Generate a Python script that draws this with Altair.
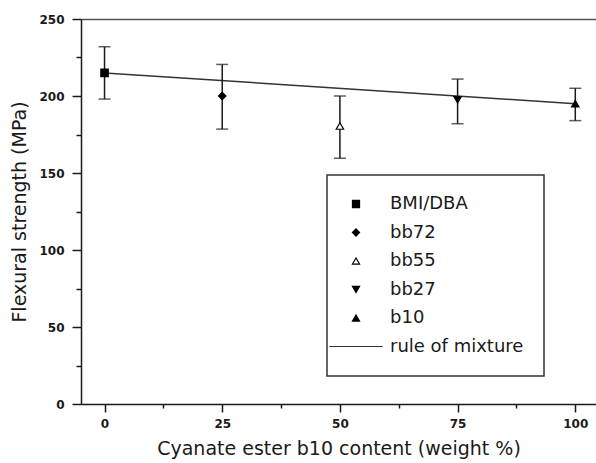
import altair as alt
import pandas as pd

# ---- data ----
series = ["BMI/DBA", "bb72", "bb55", "bb27", "b10"]
content = [0, 25, 50, 75, 100]
strength = [215, 200, 180.5, 197.5, 195]
err_high = [232, 220.5, 200, 211, 205]
err_low = [198, 178.5, 159.5, 182, 184]

mix_label = "rule of mixture"
mix_x = [0, 100]
mix_y = [215, 195]

x_ticks = [0, 12.5, 25, 37.5, 50, 62.5, 75, 87.5, 100]
y_ticks = [0, 25, 50, 75, 100, 125, 150, 175, 200, 225, 250]

legend_domain = series + [mix_label]
shape_range = ["square", "diamond", "triangle-up", "triangle-down", "triangle-up", "M-7.5,0H7.5"]
fill_range = ["black", "black", "white", "black", "black", "transparent"]
stroke_range = ["black", "black", "black", "black", "black", "#333333"]

df = pd.DataFrame({"series": series, "content": content, "strength": strength,
                   "err_high": err_high, "err_low": err_low})
mix_df = pd.DataFrame({"x": mix_x, "y": mix_y})

FONT = "DejaVu Sans"
INK = "#1a1a1a"

xs = alt.Scale(domain=[-5, 104.4], nice=False, zero=False)
ys = alt.Scale(domain=[0, 250], nice=False, zero=False)

x_axis = alt.Axis(
    values=x_ticks, title="Cyanate ester b10 content (weight %)",
    labelExpr="datum.value % 25 === 0 ? datum.label : ''",
    tickSize={"condition": {"test": "datum.value % 25 === 0", "value": 8}, "value": 4},
    labelFont=FONT, labelFontSize=12, labelFontWeight="bold", labelColor=INK,
    labelPadding=6, labelFlush=False, labelOverlap=False,
    domainColor=INK, domainWidth=1.5, tickColor=INK, tickWidth=1.5,
    titleFont=FONT, titleFontSize=19, titleFontWeight="normal", titleColor=INK,
    titlePadding=10, grid=False,
)
y_axis = alt.Axis(
    values=y_ticks, title="Flexural strength (MPa)",
    labelExpr="datum.value % 50 === 0 ? datum.label : ''",
    tickSize={"condition": {"test": "datum.value % 50 === 0", "value": 9}, "value": 5},
    labelFont=FONT, labelFontSize=12, labelFontWeight="bold", labelColor=INK,
    labelPadding=8, labelFlush=False, labelOverlap=False,
    domainColor=INK, domainWidth=1.5, tickColor=INK, tickWidth=1.5,
    titleFont=FONT, titleFontSize=19, titleFontWeight="normal", titleColor=INK,
    titlePadding=9, grid=False,
)
top_axis = alt.Axis(orient="top", ticks=False, labels=False, title=None,
                    domainColor="#555", domainWidth=1.5, grid=False)

legend = alt.Legend(
    title=None, orient="none", legendX=246, legendY=156, direction="vertical",
    padding=20, strokeColor="#333", fillColor="white",
    labelFont=FONT, labelFontSize=18, labelColor=INK, labelLimit=400,
    labelOffset=25, symbolOffset=0, rowPadding=10.5, symbolSize=50,
    symbolStrokeWidth=1.2,
)

base = alt.Chart(df)

rules = base.mark_rule(color=INK, strokeWidth=1.5).encode(
    x=alt.X("content:Q", scale=xs, axis=None),
    y=alt.Y("err_low:Q", scale=ys, axis=None),
    y2="err_high:Q",
)
caps_hi = base.mark_tick(color=INK, orient="horizontal", size=12, thickness=1.5).encode(
    x=alt.X("content:Q", scale=xs, axis=None),
    y=alt.Y("err_high:Q", scale=ys, axis=None),
)
caps_lo = base.mark_tick(color=INK, orient="horizontal", size=12, thickness=1.5).encode(
    x=alt.X("content:Q", scale=xs, axis=None),
    y=alt.Y("err_low:Q", scale=ys, axis=None),
)
line = alt.Chart(mix_df).mark_line(color="#333", strokeWidth=1.5).encode(
    x=alt.X("x:Q", scale=xs, axis=top_axis),
    y=alt.Y("y:Q", scale=ys, axis=None),
)
points = base.mark_point(filled=True, size=55, strokeWidth=1.2, opacity=1).encode(
    x=alt.X("content:Q", scale=xs, axis=x_axis),
    y=alt.Y("strength:Q", scale=ys, axis=y_axis),
    shape=alt.Shape("series:N", scale=alt.Scale(domain=legend_domain, range=shape_range), legend=legend),
    fill=alt.Fill("series:N", scale=alt.Scale(domain=legend_domain, range=fill_range), legend=legend),
    stroke=alt.Stroke("series:N", scale=alt.Scale(domain=legend_domain, range=stroke_range), legend=legend),
)

chart = (
    alt.layer(line, rules, caps_hi, caps_lo, points)
    .resolve_axis(x="independent", y="independent")
    .properties(
        width=515, height=385,
        autosize=alt.AutoSizeParams(type="none"),
        padding={"left": 81, "top": 19, "right": 0, "bottom": 59},
        background="white",
    )
    .configure_view(stroke=None)
    .configure_legend(strokeWidth=1.5)
)

chart.save("out.html", embed_options={"renderer": "svg", "actions": False})
